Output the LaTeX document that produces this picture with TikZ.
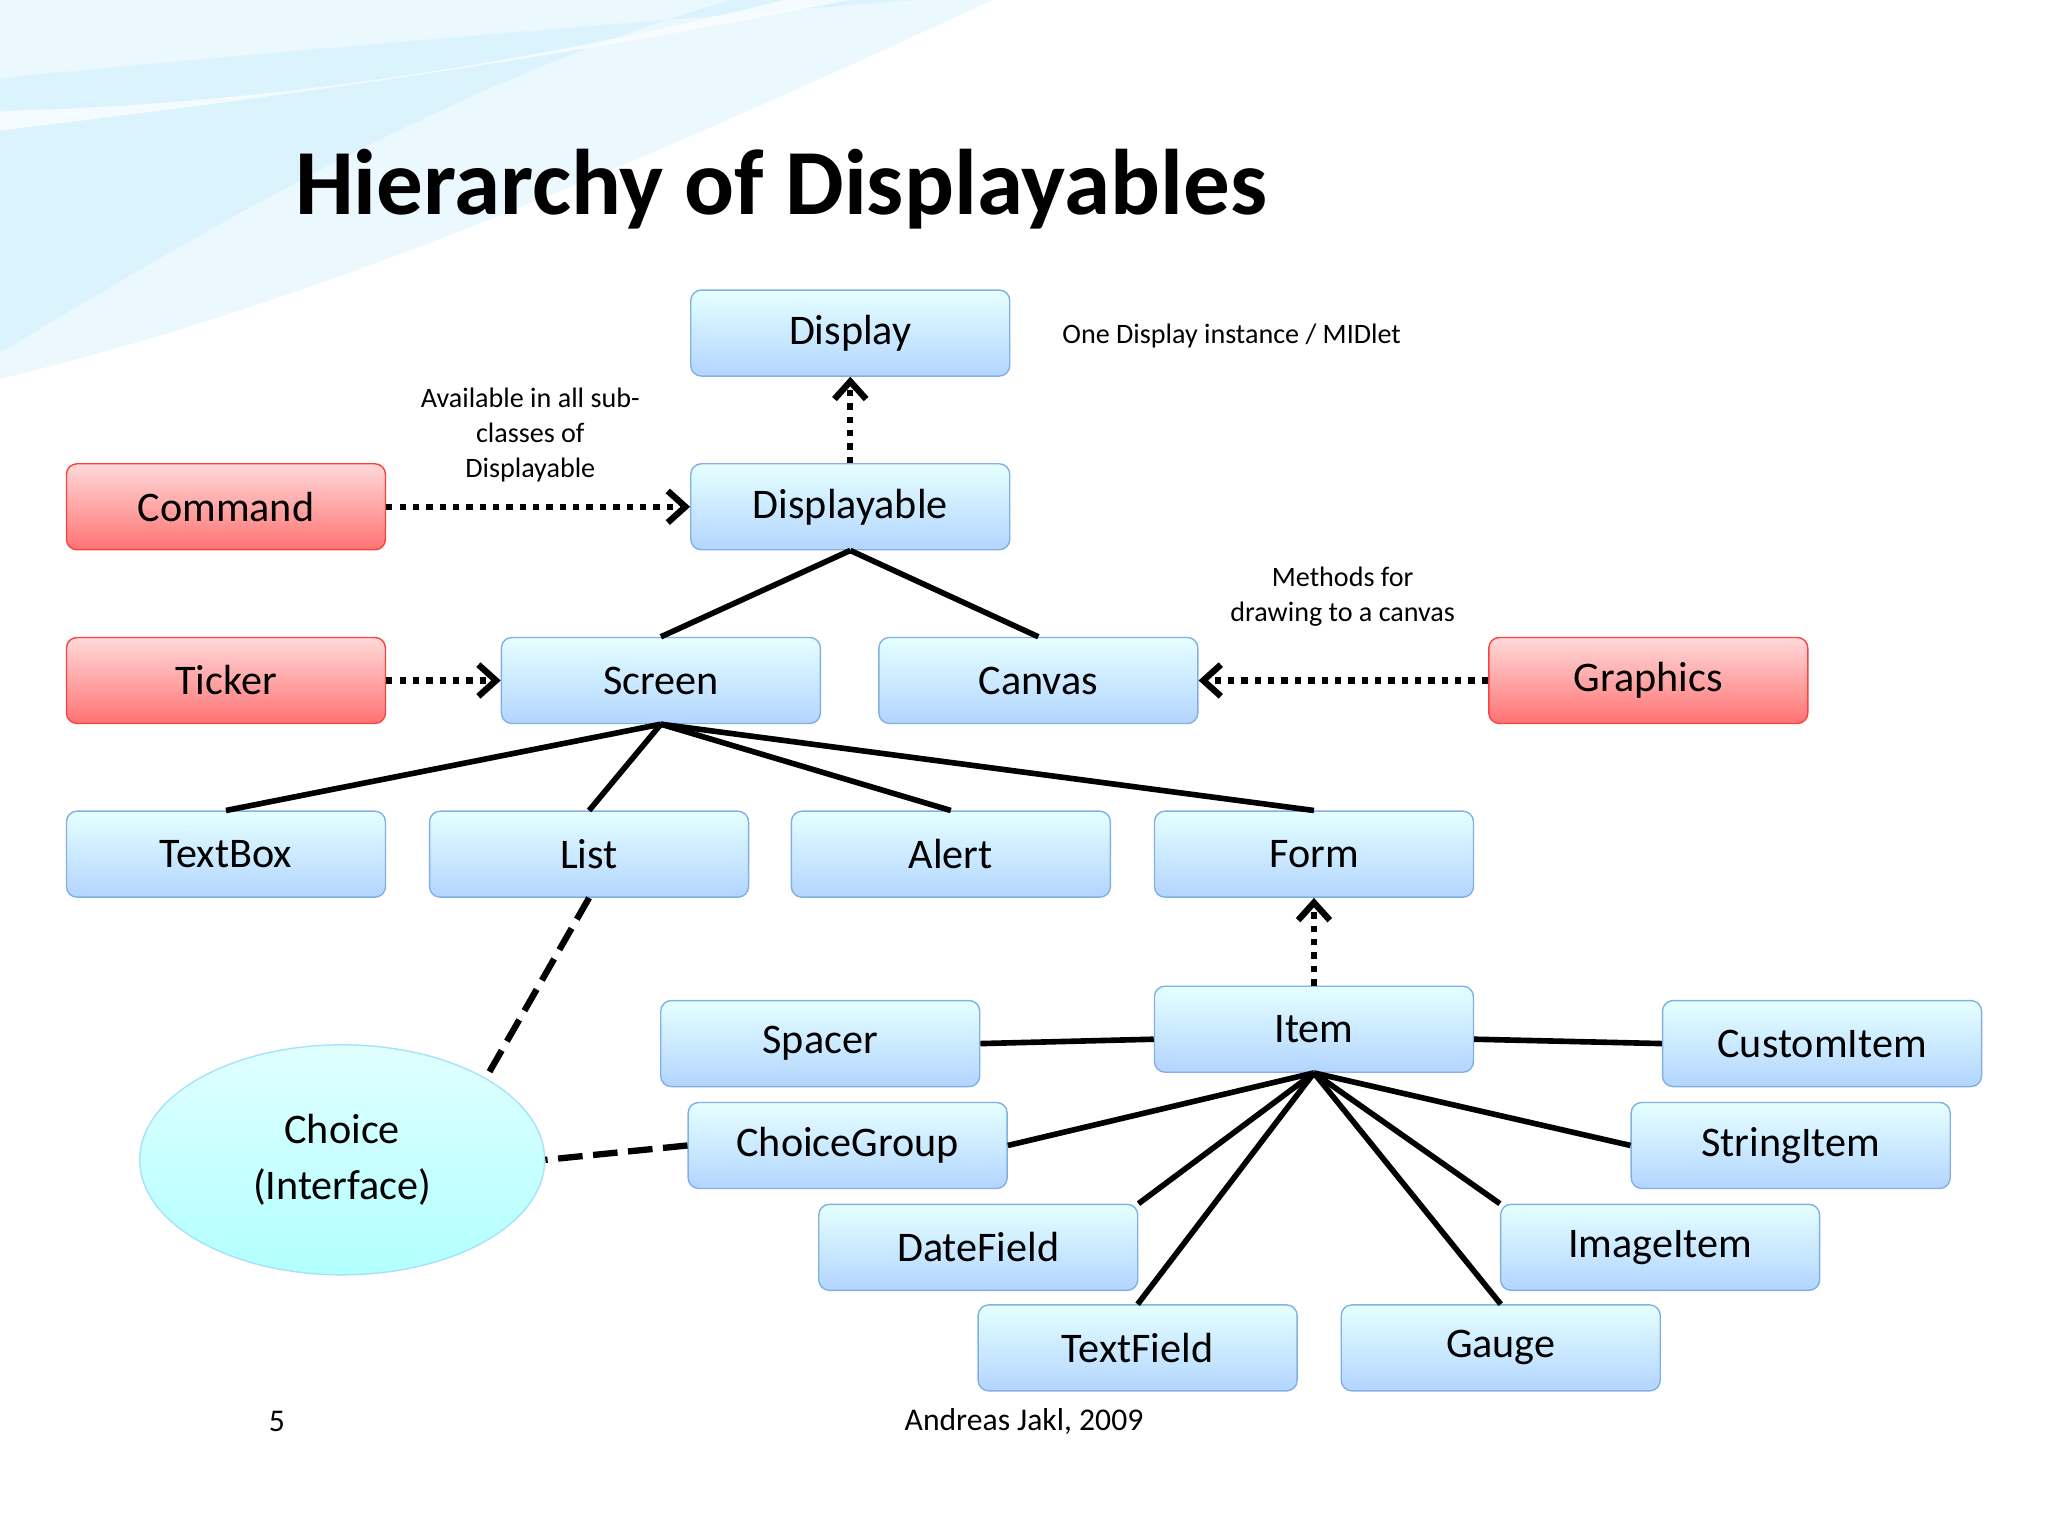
\documentclass[tikz,border=0pt]{standalone}
\usepackage{fontspec}
\setmainfont{Carlito}
\usetikzlibrary{arrows.meta,shapes.geometric}

\tikzset{
  box/.style={draw=cyan!60!blue!50,rounded corners=3pt,top color=cyan!10,bottom color=cyan!45!blue!30,
    minimum width=3.19cm,minimum height=0.86cm,font=\fontsize{12}{14}\selectfont,inner sep=0pt},
  redbox/.style={box,draw=red!75,top color=red!15,bottom color=red!55},
  note/.style={align=center,font=\fontsize{8}{10}\selectfont},
  link/.style={line width=1.6pt},
  dep/.style={line width=1.8pt,dotted,-{Straight Barb[length=5pt,width=9pt]}},
  iface/.style={line width=1.8pt,dash pattern=on 7pt off 3pt}
}

\begin{document}
\begin{tikzpicture}[x=0.01306cm,y=-0.01306cm]
\useasboundingbox (0,0) rectangle (1568,1176);
% background swoosh
\fill[cyan!8] (0,0) -- (760,0) .. controls (500,120) and (250,230) .. (0,290) -- cycle;
\fill[cyan!18,opacity=.6] (0,60) .. controls (200,40) and (450,20) .. (700,0) -- (560,0) .. controls (350,60) and (150,180) .. (0,270) -- cycle;
\fill[white,opacity=.7] (0,100) .. controls (250,70) and (450,40) .. (650,0) -- (600,0) .. controls (400,50) and (200,80) .. (0,85) -- cycle;

\node[font=\fontsize{26.5}{30}\selectfont\bfseries] (title) at (598,145) {Hierarchy of Displayables};

% boxes
\node[box] (display) at (651,255) {Display};
\node[box] (displayable) at (651,388) {Displayable};
\node[redbox] (command) at (173,388) {Command};
\node[redbox] (ticker) at (173,521) {Ticker};
\node[box] (screen) at (506,521) {Screen};
\node[box] (canvas) at (795,521) {Canvas};
\node[redbox] (graphics) at (1262,521) {Graphics};
\node[box] (textbox) at (173,654) {TextBox};
\node[box] (list) at (451,654) {List};
\node[box] (alert) at (728,654) {Alert};
\node[box] (form) at (1006,654) {Form};
\node[box] (item) at (1006,788) {Item};
\node[box] (spacer) at (628,799) {Spacer};
\node[box] (customitem) at (1395,799) {CustomItem};
\node[box] (choicegroup) at (649,877) {ChoiceGroup};
\node[box] (stringitem) at (1371,877) {StringItem};
\node[box] (datefield) at (749,955) {DateField};
\node[box] (imageitem) at (1271,955) {ImageItem};
\node[box] (textfield) at (871,1032) {TextField};
\node[box] (gauge) at (1149,1032) {Gauge};
\node[ellipse,draw=cyan!35,top color=cyan!12,bottom color=cyan!30,minimum width=4.05cm,minimum height=2.3cm,
  align=center,font=\fontsize{12}{16}\selectfont] (choice) at (262,888) {Choice\\(Interface)};

% notes
\node[note] (n1) at (943,257) {One Display instance / MIDlet};
\node[note] (n2) at (406,333) {Available in all sub-\\classes of\\Displayable};
\node[note] (n3) at (1028,457) {Methods for\\drawing to a canvas};
\node[font=\fontsize{9}{10}\selectfont] (page) at (212,1088) {5};
\node[font=\fontsize{9}{10}\selectfont] (author) at (784,1088) {Andreas Jakl, 2009};

% connectors
\draw[dep] (displayable) -- (display);
\draw[dep] (command) -- (displayable);
\draw[dep] (ticker) -- (screen);
\draw[dep] (graphics) -- (canvas);
\draw[dep] (item) -- (form);
\draw[link] (displayable.south) -- (screen.north);
\draw[link] (displayable.south) -- (canvas.north);
\foreach \n in {textbox,list,alert,form}
  \draw[link] (screen.south) -- (\n.north);
\draw[link] (spacer.east) -- ([yshift=-0.1cm]item.west);
\draw[link] (customitem.west) -- ([yshift=-0.1cm]item.east);
\draw[link] (item.south) -- (choicegroup.east);
\draw[link] (item.south) -- (stringitem.west);
\draw[link] (item.south) -- (datefield.north east);
\draw[link] (item.south) -- (imageitem.north west);
\draw[link] (item.south) -- (textfield.north);
\draw[link] (item.south) -- (gauge.north);
\draw[iface] (list.south) -- (choice.north east);
\draw[iface] (choicegroup.west) -- (choice.east);
\end{tikzpicture}
\end{document}
